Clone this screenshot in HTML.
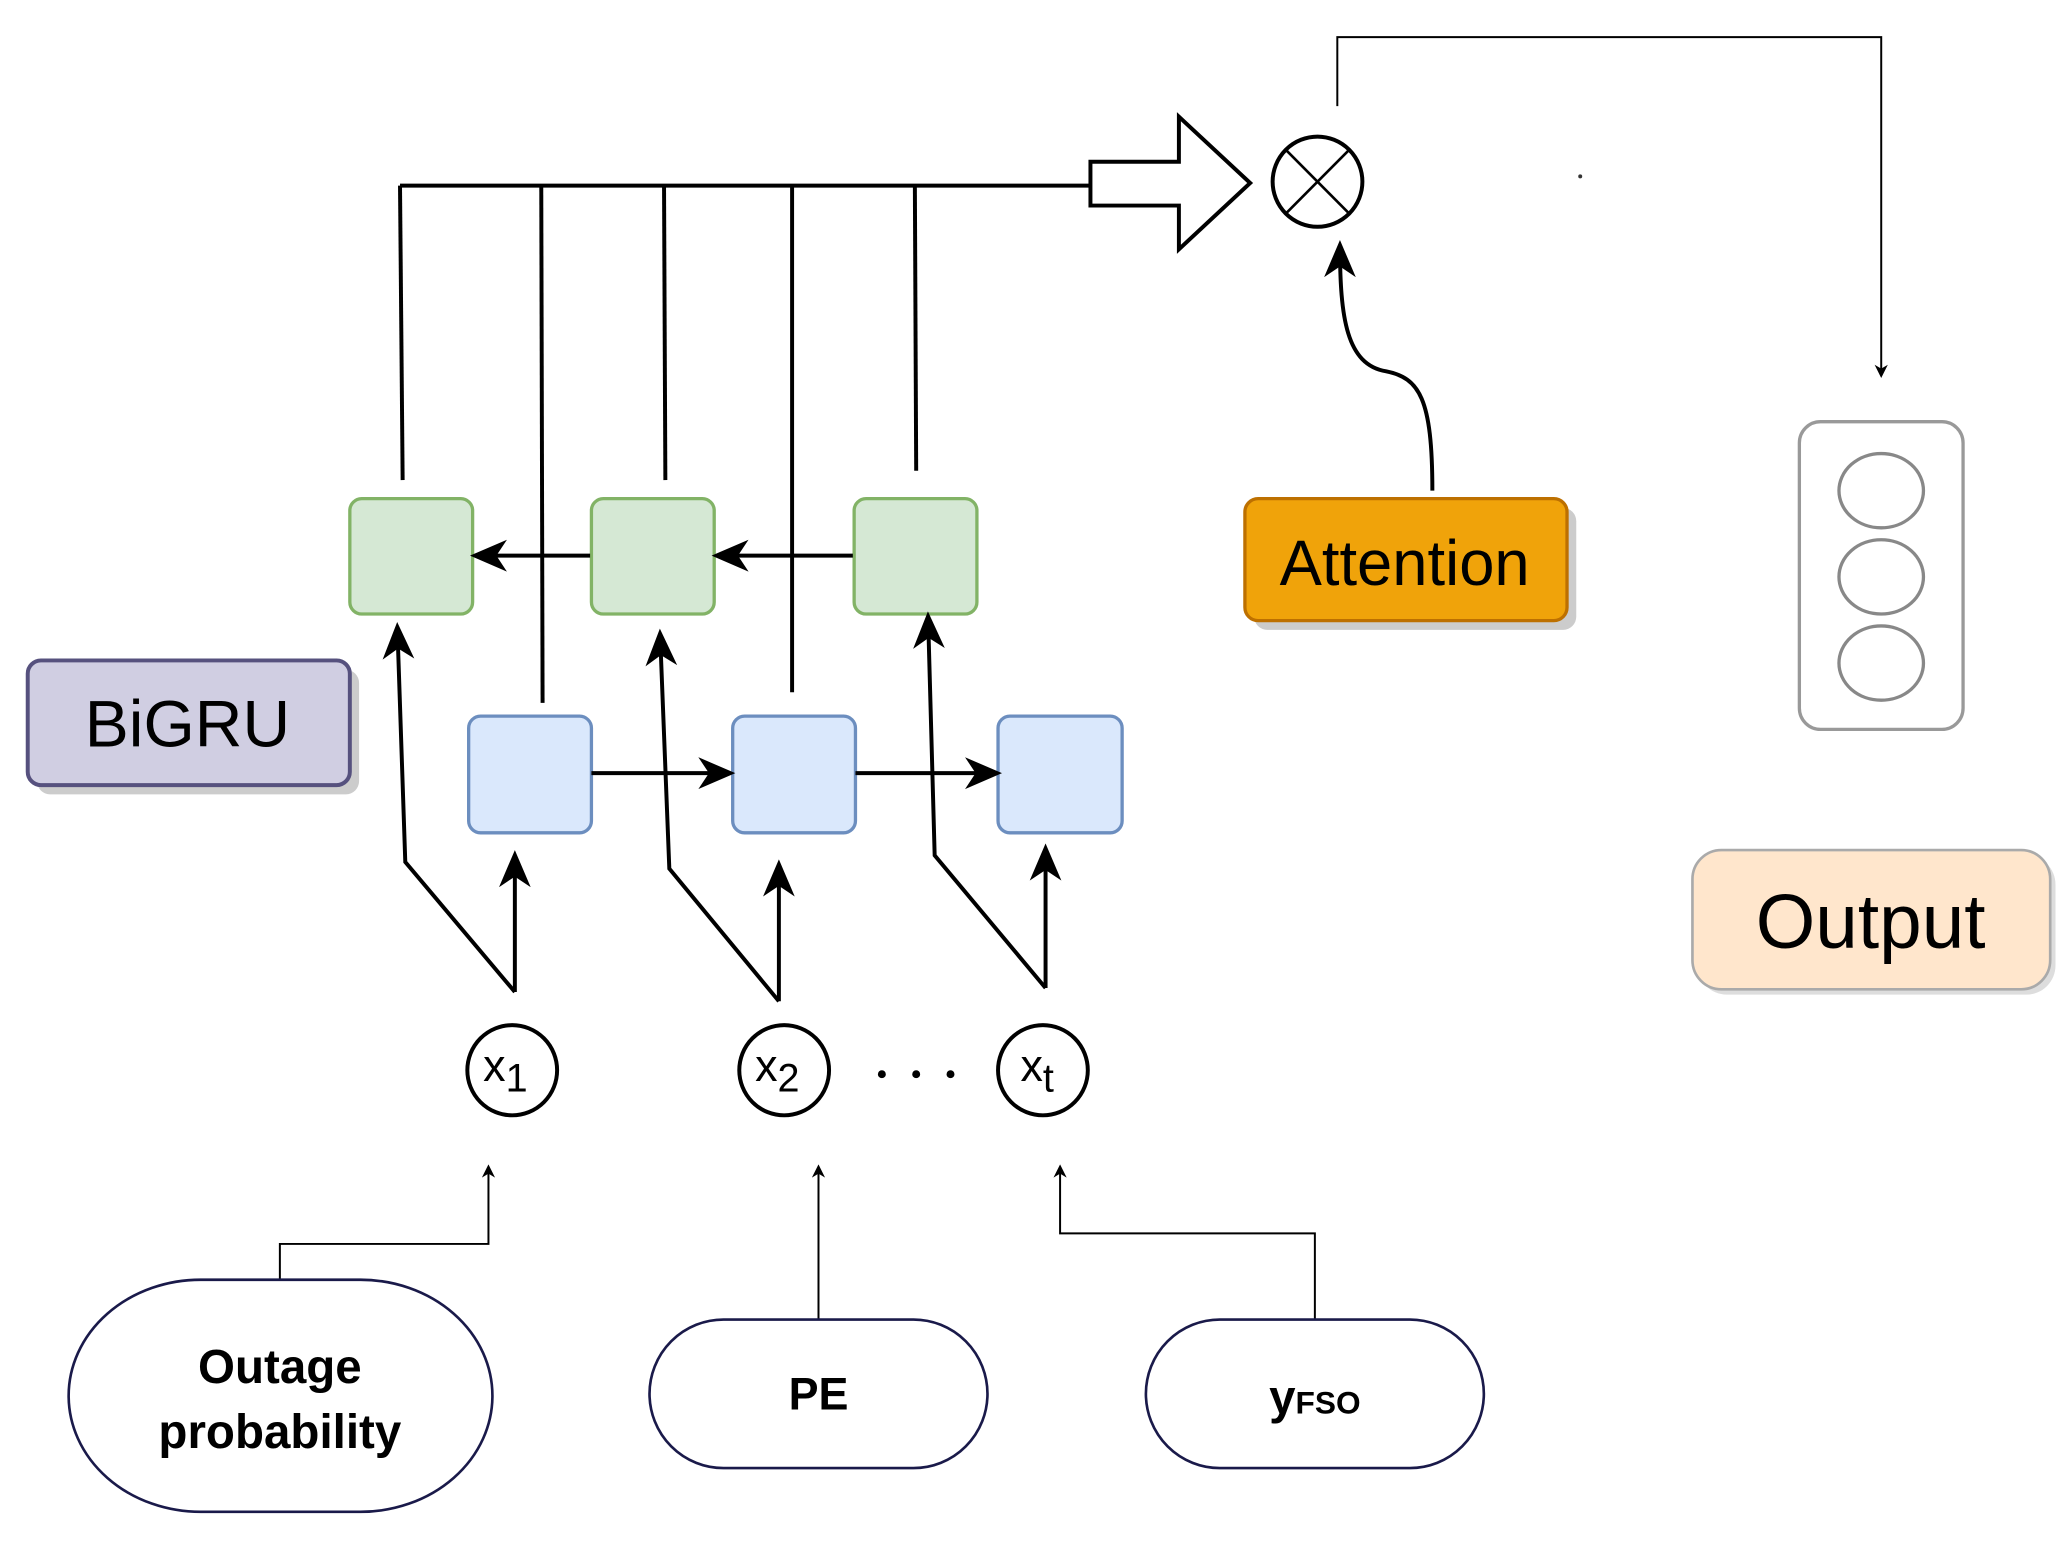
<!DOCTYPE html>
<html><head><meta charset="utf-8"><style>
html,body{margin:0;padding:0;background:#fff;}
svg{display:block;}
text{font-family:"Liberation Sans",sans-serif;}
</style></head><body>
<svg width="2070" height="1541" viewBox="0 0 1568 1162" preserveAspectRatio="none" xmlns="http://www.w3.org/2000/svg">
<defs>
<marker id="ah" markerWidth="10" markerHeight="10" refX="8" refY="5" orient="auto" markerUnits="userSpaceOnUse" viewBox="0 0 10 10">
<path d="M0,0 L10,5 L0,10 L3,5 Z" fill="#000"/></marker>
<marker id="ab" markerWidth="28" markerHeight="28" refX="24" refY="14" orient="auto" markerUnits="userSpaceOnUse" viewBox="0 0 28 28">
<path d="M0,2 L28,14 L0,26 L8,14 Z" fill="#000"/></marker>
</defs>
<g stroke="#000" stroke-width="3" fill="none">
<line x1="303" y1="140" x2="826" y2="140"/>
<line x1="303" y1="140" x2="305" y2="362"/>
<line x1="410" y1="140" x2="411" y2="530"/>
<line x1="503" y1="140" x2="504" y2="362"/>
<line x1="600" y1="140" x2="600" y2="522"/>
<line x1="693" y1="140" x2="694" y2="355"/>
<path d="M826 122 L893 122 L893 88 L947 138 L893 188 L893 155 L826 155 Z" fill="#fff"/>
<circle cx="998" cy="137" r="34" fill="#fff"/>
<line x1="974" y1="113" x2="1022" y2="161" stroke-width="2"/>
<line x1="1022" y1="113" x2="974" y2="161" stroke-width="2"/>
<path d="M1085 370 C1085 300 1075 285 1050 280 C1020 275 1015 240 1015 185" marker-end="url(#ab)"/>
</g>
<g stroke="#000" stroke-width="1.5" fill="none">
<polyline points="1013,80 1013,28 1425,28 1425,283" marker-end="url(#ah)"/>
<polyline points="212,965 212,938 370,938 370,880" marker-end="url(#ah)"/>
<line x1="620" y1="995" x2="620" y2="880" marker-end="url(#ah)"/>
<polyline points="996,995 996,930 803,930 803,880" marker-end="url(#ah)"/>
</g>
<!-- green boxes -->
<g fill="#d5e8d4" stroke="#82b366" stroke-width="2.5">
<rect x="265" y="376" width="93" height="87" rx="9"/>
<rect x="448" y="376" width="93" height="87" rx="9"/>
<rect x="647" y="376" width="93" height="87" rx="9"/>
</g>
<g fill="#dae8fc" stroke="#6c8ebf" stroke-width="2.5">
<rect x="355" y="540" width="93" height="88" rx="9"/>
<rect x="555" y="540" width="93" height="88" rx="9"/>
<rect x="756" y="540" width="94" height="88" rx="9"/>
</g>
<g stroke="#000" stroke-width="3" fill="none">
<line x1="447" y1="419" x2="360" y2="419" marker-end="url(#ab)"/>
<line x1="646" y1="419" x2="543" y2="419" marker-end="url(#ab)"/>
<line x1="448" y1="583" x2="553" y2="583" marker-end="url(#ab)"/>
<line x1="648" y1="583" x2="755" y2="583" marker-end="url(#ab)"/>
<line x1="390" y1="748" x2="390" y2="645" marker-end="url(#ab)"/>
<polyline points="390,748 307,650 301,473" marker-end="url(#ab)"/>
<line x1="590" y1="755" x2="590" y2="652" marker-end="url(#ab)"/>
<polyline points="590,755 507,655 500,478" marker-end="url(#ab)"/>
<line x1="792" y1="745" x2="792" y2="640" marker-end="url(#ab)"/>
<polyline points="792,745 708,645 703,465" marker-end="url(#ab)"/>
</g>
<!-- x circles -->
<g fill="#fff" stroke="#000" stroke-width="3">
<circle cx="388" cy="807" r="34"/>
<circle cx="594" cy="807" r="34"/>
<circle cx="790" cy="807" r="34"/>
</g>
<text x="366" y="815" font-size="34">x<tspan font-size="30" dy="8">1</tspan></text>
<text x="572" y="815" font-size="34">x<tspan font-size="30" dy="8">2</tspan></text>
<text x="773" y="815" font-size="34">x<tspan font-size="30" dy="8">t</tspan></text>
<g fill="#000"><circle cx="668" cy="810" r="3"/><circle cx="694" cy="810" r="3"/><circle cx="720" cy="810" r="3"/></g>
<!-- BiGRU -->
<rect x="28" y="505" width="244" height="94" rx="10" fill="#ccc"/>
<rect x="21" y="498" width="244" height="94" rx="10" fill="#d0cee2" stroke="#56517e" stroke-width="3"/>
<text x="142" y="563" font-size="50" text-anchor="middle">BiGRU</text>
<!-- Attention -->
<rect x="950" y="383" width="244" height="92" rx="10" fill="#ccc"/>
<rect x="943" y="376" width="244" height="92" rx="10" fill="#f0a30a" stroke="#bd7000" stroke-width="2.5"/>
<text x="1064" y="441" font-size="48" text-anchor="middle">Attention</text>
<!-- output layer -->
<rect x="1363" y="318" width="124" height="232" rx="16" fill="#fff" stroke="#999" stroke-width="2.5"/>
<g fill="#fff" stroke="#888" stroke-width="2.5">
<ellipse cx="1425" cy="370" rx="32" ry="28"/>
<ellipse cx="1425" cy="435" rx="32" ry="28"/>
<ellipse cx="1425" cy="500" rx="32" ry="28"/>
</g>
<!-- Output -->
<rect x="1286" y="645" width="271" height="105" rx="22" fill="#ddd"/>
<rect x="1282" y="641" width="271" height="105" rx="22" fill="#ffe6cc" stroke="#aaa" stroke-width="2"/>
<text x="1417" y="715" font-size="58" text-anchor="middle">Output</text>
<!-- bottom inputs -->
<g fill="#fff" stroke="#1a1a4a" stroke-width="2">
<rect x="52" y="965" width="321" height="175" rx="100"/>
<rect x="492" y="995" width="256" height="112" rx="56"/>
<rect x="868" y="995" width="256" height="112" rx="56"/>
</g>
<g font-weight="bold" text-anchor="middle" fill="#000">
<text x="212" y="1043" font-size="36">Outage</text>
<text x="212" y="1092" font-size="36">probability</text>
<text x="620" y="1063" font-size="34">PE</text>
<text x="996" y="1066" font-size="36">y<tspan font-size="24">FSO</tspan></text>
</g>
<circle cx="1197" cy="133" r="1.5" fill="#333"/>
</svg>
</body></html>
